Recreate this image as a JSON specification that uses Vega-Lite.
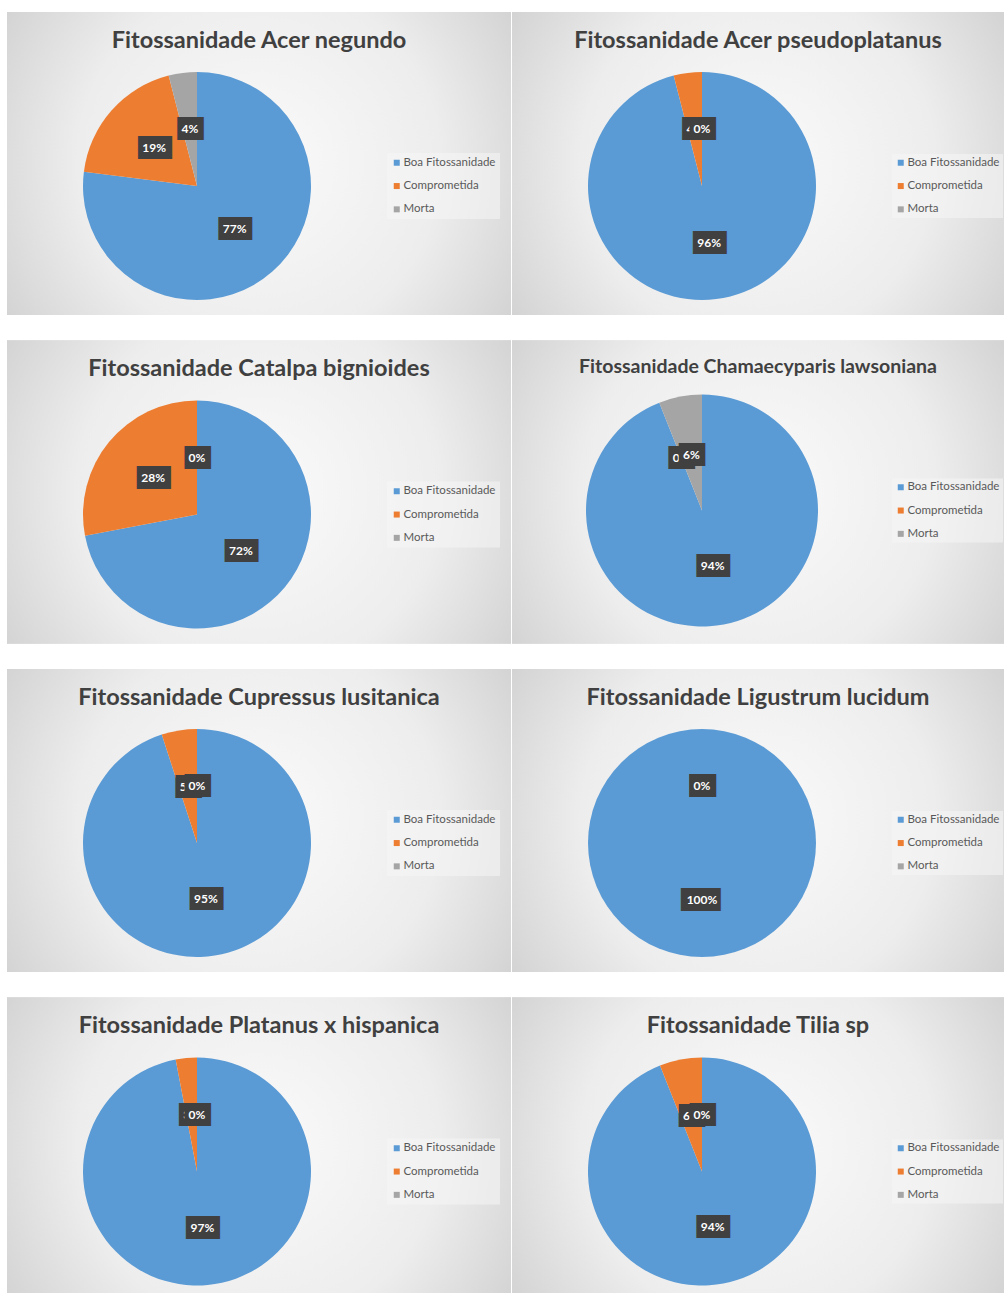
{
  "$schema": "https://vega.github.io/schema/vega-lite/v6.json",
  "background": "#ffffff",
  "padding": {"left": 7, "top": 12, "right": 0, "bottom": 0},
  "data": {
    "values": [
      {"especie": "Acer negundo", "estado": "Boa Fitossanidade", "pct": 77},
      {"especie": "Acer negundo", "estado": "Comprometida", "pct": 19},
      {"especie": "Acer negundo", "estado": "Morta", "pct": 4},
      {"especie": "Acer pseudoplatanus", "estado": "Boa Fitossanidade", "pct": 96},
      {"especie": "Acer pseudoplatanus", "estado": "Comprometida", "pct": 4},
      {"especie": "Acer pseudoplatanus", "estado": "Morta", "pct": 0},
      {"especie": "Catalpa bignioides", "estado": "Boa Fitossanidade", "pct": 72},
      {"especie": "Catalpa bignioides", "estado": "Comprometida", "pct": 28},
      {"especie": "Catalpa bignioides", "estado": "Morta", "pct": 0},
      {"especie": "Chamaecyparis lawsoniana", "estado": "Boa Fitossanidade", "pct": 94},
      {"especie": "Chamaecyparis lawsoniana", "estado": "Comprometida", "pct": 0},
      {"especie": "Chamaecyparis lawsoniana", "estado": "Morta", "pct": 6},
      {"especie": "Cupressus lusitanica", "estado": "Boa Fitossanidade", "pct": 95},
      {"especie": "Cupressus lusitanica", "estado": "Comprometida", "pct": 5},
      {"especie": "Cupressus lusitanica", "estado": "Morta", "pct": 0},
      {"especie": "Ligustrum lucidum", "estado": "Boa Fitossanidade", "pct": 100},
      {"especie": "Ligustrum lucidum", "estado": "Comprometida", "pct": 0},
      {"especie": "Ligustrum lucidum", "estado": "Morta", "pct": 0},
      {"especie": "Platanus x hispanica", "estado": "Boa Fitossanidade", "pct": 97},
      {"especie": "Platanus x hispanica", "estado": "Comprometida", "pct": 3},
      {"especie": "Platanus x hispanica", "estado": "Morta", "pct": 0},
      {"especie": "Tilia sp", "estado": "Boa Fitossanidade", "pct": 94},
      {"especie": "Tilia sp", "estado": "Comprometida", "pct": 6},
      {"especie": "Tilia sp", "estado": "Morta", "pct": 0}
    ]
  },
  "transform": [
    {"calculate": "datum.pct + '%'", "as": "rotulo"},
    {"calculate": "length(datum.rotulo) == 2 ? '\u2595\u2588\u2588\u258E' : length(datum.rotulo) == 3 ? '\u2590\u2588\u2588\u258B' : '\u2590\u2588\u2588\u2588\u258E'", "as": "caixa"}
  ],
  "spacing": 25.5,
  "resolve": {"scale": {"color": "independent", "theta": "independent"}},
  "vconcat": [
    {
      "spacing": 1,
      "resolve": {"scale": {"color": "independent", "theta": "independent"}},
      "hconcat": [
        {
          "width": 504, "height": 303,
          "title": "Fitossanidade Acer negundo",
          "transform": [{"filter": "datum.especie === 'Acer negundo'"}],
          "layer": [
            {"mark": {"type": "rect", "style": "fundo"}, "encoding": {}},
            {"mark": {"type": "arc", "style": "torta", "radius": 114}, "encoding": {"theta": {"field": "pct", "type": "quantitative", "stack": true}, "order": {"field": "estado", "type": "ordinal"}, "color": {"field": "estado", "type": "nominal", "scale": {"domain": ["Boa Fitossanidade", "Comprometida", "Morta"], "range": ["#5B9BD5", "#ED7D31", "#A5A5A5"]}, "legend": {"title": null}}}},
            {"mark": {"type": "text", "style": ["torta", "caixa"], "radius": 57}, "encoding": {"theta": {"field": "pct", "type": "quantitative", "stack": true}, "order": {"field": "estado", "type": "ordinal"}, "text": {"field": "caixa"}, "opacity": {"condition": {"test": "datum.estado === 'Morta'", "value": 0}, "value": 1}}},
            {"mark": {"type": "text", "style": ["torta", "rotulo"], "radius": 57}, "encoding": {"theta": {"field": "pct", "type": "quantitative", "stack": true}, "order": {"field": "estado", "type": "ordinal"}, "text": {"field": "rotulo"}, "opacity": {"condition": {"test": "datum.estado === 'Morta'", "value": 0}, "value": 1}}},
            {"mark": {"type": "text", "style": ["torta", "caixa"], "radius": 57}, "encoding": {"theta": {"field": "pct", "type": "quantitative", "stack": true}, "order": {"field": "estado", "type": "ordinal"}, "text": {"field": "caixa"}, "opacity": {"condition": {"test": "datum.estado === 'Morta'", "value": 1}, "value": 0}}},
            {"mark": {"type": "text", "style": ["torta", "rotulo"], "radius": 57}, "encoding": {"theta": {"field": "pct", "type": "quantitative", "stack": true}, "order": {"field": "estado", "type": "ordinal"}, "text": {"field": "rotulo"}, "opacity": {"condition": {"test": "datum.estado === 'Morta'", "value": 1}, "value": 0}}}
          ]
        },
        {
          "width": 492, "height": 303,
          "title": "Fitossanidade Acer pseudoplatanus",
          "transform": [{"filter": "datum.especie === 'Acer pseudoplatanus'"}],
          "layer": [
            {"mark": {"type": "rect", "style": "fundo"}, "encoding": {}},
            {"mark": {"type": "arc", "style": "torta", "radius": 114}, "encoding": {"theta": {"field": "pct", "type": "quantitative", "stack": true}, "order": {"field": "estado", "type": "ordinal"}, "color": {"field": "estado", "type": "nominal", "scale": {"domain": ["Boa Fitossanidade", "Comprometida", "Morta"], "range": ["#5B9BD5", "#ED7D31", "#A5A5A5"]}, "legend": {"title": null, "padding": 3, "legendY": 142}}}},
            {"mark": {"type": "text", "style": ["torta", "caixa"], "radius": 57}, "encoding": {"theta": {"field": "pct", "type": "quantitative", "stack": true}, "order": {"field": "estado", "type": "ordinal"}, "text": {"field": "caixa"}, "opacity": {"condition": {"test": "datum.estado === 'Morta'", "value": 0}, "value": 1}}},
            {"mark": {"type": "text", "style": ["torta", "rotulo"], "radius": 57}, "encoding": {"theta": {"field": "pct", "type": "quantitative", "stack": true}, "order": {"field": "estado", "type": "ordinal"}, "text": {"field": "rotulo"}, "opacity": {"condition": {"test": "datum.estado === 'Morta'", "value": 0}, "value": 1}}},
            {"mark": {"type": "text", "style": ["torta", "caixa"], "radius": 57}, "encoding": {"theta": {"field": "pct", "type": "quantitative", "stack": true}, "order": {"field": "estado", "type": "ordinal"}, "text": {"field": "caixa"}, "opacity": {"condition": {"test": "datum.estado === 'Morta'", "value": 1}, "value": 0}}},
            {"mark": {"type": "text", "style": ["torta", "rotulo"], "radius": 57}, "encoding": {"theta": {"field": "pct", "type": "quantitative", "stack": true}, "order": {"field": "estado", "type": "ordinal"}, "text": {"field": "rotulo"}, "opacity": {"condition": {"test": "datum.estado === 'Morta'", "value": 1}, "value": 0}}}
          ]
        }
      ]
    },
    {
      "spacing": 1,
      "resolve": {"scale": {"color": "independent", "theta": "independent"}},
      "hconcat": [
        {
          "width": 504, "height": 303,
          "title": "Fitossanidade Catalpa bignioides",
          "transform": [{"filter": "datum.especie === 'Catalpa bignioides'"}],
          "layer": [
            {"mark": {"type": "rect", "style": "fundo"}, "encoding": {}},
            {"mark": {"type": "arc", "style": "torta", "radius": 114}, "encoding": {"theta": {"field": "pct", "type": "quantitative", "stack": true}, "order": {"field": "estado", "type": "ordinal"}, "color": {"field": "estado", "type": "nominal", "scale": {"domain": ["Boa Fitossanidade", "Comprometida", "Morta"], "range": ["#5B9BD5", "#ED7D31", "#A5A5A5"]}, "legend": {"title": null}}}},
            {"mark": {"type": "text", "style": ["torta", "caixa"], "radius": 57}, "encoding": {"theta": {"field": "pct", "type": "quantitative", "stack": true}, "order": {"field": "estado", "type": "ordinal"}, "text": {"field": "caixa"}, "opacity": {"condition": {"test": "datum.estado === 'Morta'", "value": 0}, "value": 1}}},
            {"mark": {"type": "text", "style": ["torta", "rotulo"], "radius": 57}, "encoding": {"theta": {"field": "pct", "type": "quantitative", "stack": true}, "order": {"field": "estado", "type": "ordinal"}, "text": {"field": "rotulo"}, "opacity": {"condition": {"test": "datum.estado === 'Morta'", "value": 0}, "value": 1}}},
            {"mark": {"type": "text", "style": ["torta", "caixa"], "radius": 57}, "encoding": {"theta": {"field": "pct", "type": "quantitative", "stack": true}, "order": {"field": "estado", "type": "ordinal"}, "text": {"field": "caixa"}, "opacity": {"condition": {"test": "datum.estado === 'Morta'", "value": 1}, "value": 0}}},
            {"mark": {"type": "text", "style": ["torta", "rotulo"], "radius": 57}, "encoding": {"theta": {"field": "pct", "type": "quantitative", "stack": true}, "order": {"field": "estado", "type": "ordinal"}, "text": {"field": "rotulo"}, "opacity": {"condition": {"test": "datum.estado === 'Morta'", "value": 1}, "value": 0}}}
          ]
        },
        {
          "width": 492, "height": 303,
          "title": {"text": "Fitossanidade Chamaecyparis lawsoniana", "fontSize": 19.5, "offset": -37},
          "transform": [{"filter": "datum.especie === 'Chamaecyparis lawsoniana'"}],
          "layer": [
            {"mark": {"type": "rect", "style": "fundo"}, "encoding": {}},
            {"mark": {"type": "arc", "style": "torta", "radius": 116, "y": 170}, "encoding": {"theta": {"field": "pct", "type": "quantitative", "stack": true}, "order": {"field": "estado", "type": "ordinal"}, "color": {"field": "estado", "type": "nominal", "scale": {"domain": ["Boa Fitossanidade", "Comprometida", "Morta"], "range": ["#5B9BD5", "#ED7D31", "#A5A5A5"]}, "legend": {"title": null, "padding": 3, "legendY": 138}}}},
            {"mark": {"type": "text", "style": ["torta", "caixa"], "radius": 57, "y": 170}, "encoding": {"theta": {"field": "pct", "type": "quantitative", "stack": true}, "order": {"field": "estado", "type": "ordinal"}, "text": {"field": "caixa"}, "opacity": {"condition": {"test": "datum.estado === 'Morta'", "value": 0}, "value": 1}}},
            {"mark": {"type": "text", "style": ["torta", "rotulo"], "radius": 57, "y": 170}, "encoding": {"theta": {"field": "pct", "type": "quantitative", "stack": true}, "order": {"field": "estado", "type": "ordinal"}, "text": {"field": "rotulo"}, "opacity": {"condition": {"test": "datum.estado === 'Morta'", "value": 0}, "value": 1}}},
            {"mark": {"type": "text", "style": ["torta", "caixa"], "radius": 57, "y": 170}, "encoding": {"theta": {"field": "pct", "type": "quantitative", "stack": true}, "order": {"field": "estado", "type": "ordinal"}, "text": {"field": "caixa"}, "opacity": {"condition": {"test": "datum.estado === 'Morta'", "value": 1}, "value": 0}}},
            {"mark": {"type": "text", "style": ["torta", "rotulo"], "radius": 57, "y": 170}, "encoding": {"theta": {"field": "pct", "type": "quantitative", "stack": true}, "order": {"field": "estado", "type": "ordinal"}, "text": {"field": "rotulo"}, "opacity": {"condition": {"test": "datum.estado === 'Morta'", "value": 1}, "value": 0}}}
          ]
        }
      ]
    },
    {
      "spacing": 1,
      "resolve": {"scale": {"color": "independent", "theta": "independent"}},
      "hconcat": [
        {
          "width": 504, "height": 303,
          "title": "Fitossanidade Cupressus lusitanica",
          "transform": [{"filter": "datum.especie === 'Cupressus lusitanica'"}],
          "layer": [
            {"mark": {"type": "rect", "style": "fundo"}, "encoding": {}},
            {"mark": {"type": "arc", "style": "torta", "radius": 114}, "encoding": {"theta": {"field": "pct", "type": "quantitative", "stack": true}, "order": {"field": "estado", "type": "ordinal"}, "color": {"field": "estado", "type": "nominal", "scale": {"domain": ["Boa Fitossanidade", "Comprometida", "Morta"], "range": ["#5B9BD5", "#ED7D31", "#A5A5A5"]}, "legend": {"title": null}}}},
            {"mark": {"type": "text", "style": ["torta", "caixa"], "radius": 57}, "encoding": {"theta": {"field": "pct", "type": "quantitative", "stack": true}, "order": {"field": "estado", "type": "ordinal"}, "text": {"field": "caixa"}, "opacity": {"condition": {"test": "datum.estado === 'Morta'", "value": 0}, "value": 1}}},
            {"mark": {"type": "text", "style": ["torta", "rotulo"], "radius": 57}, "encoding": {"theta": {"field": "pct", "type": "quantitative", "stack": true}, "order": {"field": "estado", "type": "ordinal"}, "text": {"field": "rotulo"}, "opacity": {"condition": {"test": "datum.estado === 'Morta'", "value": 0}, "value": 1}}},
            {"mark": {"type": "text", "style": ["torta", "caixa"], "radius": 57}, "encoding": {"theta": {"field": "pct", "type": "quantitative", "stack": true}, "order": {"field": "estado", "type": "ordinal"}, "text": {"field": "caixa"}, "opacity": {"condition": {"test": "datum.estado === 'Morta'", "value": 1}, "value": 0}}},
            {"mark": {"type": "text", "style": ["torta", "rotulo"], "radius": 57}, "encoding": {"theta": {"field": "pct", "type": "quantitative", "stack": true}, "order": {"field": "estado", "type": "ordinal"}, "text": {"field": "rotulo"}, "opacity": {"condition": {"test": "datum.estado === 'Morta'", "value": 1}, "value": 0}}}
          ]
        },
        {
          "width": 492, "height": 303,
          "title": "Fitossanidade Ligustrum lucidum",
          "transform": [{"filter": "datum.especie === 'Ligustrum lucidum'"}],
          "layer": [
            {"mark": {"type": "rect", "style": "fundo"}, "encoding": {}},
            {"mark": {"type": "arc", "style": "torta", "radius": 114}, "encoding": {"theta": {"field": "pct", "type": "quantitative", "stack": true}, "order": {"field": "estado", "type": "ordinal"}, "color": {"field": "estado", "type": "nominal", "scale": {"domain": ["Boa Fitossanidade", "Comprometida", "Morta"], "range": ["#5B9BD5", "#ED7D31", "#A5A5A5"]}, "legend": {"title": null, "padding": 3, "legendY": 142}}}},
            {"mark": {"type": "text", "style": ["torta", "caixa"], "radius": 57}, "encoding": {"theta": {"field": "pct", "type": "quantitative", "stack": true}, "order": {"field": "estado", "type": "ordinal"}, "text": {"field": "caixa"}, "opacity": {"condition": {"test": "datum.estado === 'Morta'", "value": 0}, "value": 1}}},
            {"mark": {"type": "text", "style": ["torta", "rotulo"], "radius": 57}, "encoding": {"theta": {"field": "pct", "type": "quantitative", "stack": true}, "order": {"field": "estado", "type": "ordinal"}, "text": {"field": "rotulo"}, "opacity": {"condition": {"test": "datum.estado === 'Morta'", "value": 0}, "value": 1}}},
            {"mark": {"type": "text", "style": ["torta", "caixa"], "radius": 57}, "encoding": {"theta": {"field": "pct", "type": "quantitative", "stack": true}, "order": {"field": "estado", "type": "ordinal"}, "text": {"field": "caixa"}, "opacity": {"condition": {"test": "datum.estado === 'Morta'", "value": 1}, "value": 0}}},
            {"mark": {"type": "text", "style": ["torta", "rotulo"], "radius": 57}, "encoding": {"theta": {"field": "pct", "type": "quantitative", "stack": true}, "order": {"field": "estado", "type": "ordinal"}, "text": {"field": "rotulo"}, "opacity": {"condition": {"test": "datum.estado === 'Morta'", "value": 1}, "value": 0}}}
          ]
        }
      ]
    },
    {
      "spacing": 1,
      "resolve": {"scale": {"color": "independent", "theta": "independent"}},
      "hconcat": [
        {
          "width": 504, "height": 295.5,
          "title": "Fitossanidade Platanus x hispanica",
          "transform": [{"filter": "datum.especie === 'Platanus x hispanica'"}],
          "layer": [
            {"mark": {"type": "rect", "style": "fundo"}, "encoding": {}},
            {"mark": {"type": "arc", "style": "torta", "radius": 114}, "encoding": {"theta": {"field": "pct", "type": "quantitative", "stack": true}, "order": {"field": "estado", "type": "ordinal"}, "color": {"field": "estado", "type": "nominal", "scale": {"domain": ["Boa Fitossanidade", "Comprometida", "Morta"], "range": ["#5B9BD5", "#ED7D31", "#A5A5A5"]}, "legend": {"title": null}}}},
            {"mark": {"type": "text", "style": ["torta", "caixa"], "radius": 57}, "encoding": {"theta": {"field": "pct", "type": "quantitative", "stack": true}, "order": {"field": "estado", "type": "ordinal"}, "text": {"field": "caixa"}, "opacity": {"condition": {"test": "datum.estado === 'Morta'", "value": 0}, "value": 1}}},
            {"mark": {"type": "text", "style": ["torta", "rotulo"], "radius": 57}, "encoding": {"theta": {"field": "pct", "type": "quantitative", "stack": true}, "order": {"field": "estado", "type": "ordinal"}, "text": {"field": "rotulo"}, "opacity": {"condition": {"test": "datum.estado === 'Morta'", "value": 0}, "value": 1}}},
            {"mark": {"type": "text", "style": ["torta", "caixa"], "radius": 57}, "encoding": {"theta": {"field": "pct", "type": "quantitative", "stack": true}, "order": {"field": "estado", "type": "ordinal"}, "text": {"field": "caixa"}, "opacity": {"condition": {"test": "datum.estado === 'Morta'", "value": 1}, "value": 0}}},
            {"mark": {"type": "text", "style": ["torta", "rotulo"], "radius": 57}, "encoding": {"theta": {"field": "pct", "type": "quantitative", "stack": true}, "order": {"field": "estado", "type": "ordinal"}, "text": {"field": "rotulo"}, "opacity": {"condition": {"test": "datum.estado === 'Morta'", "value": 1}, "value": 0}}}
          ]
        },
        {
          "width": 492, "height": 295.5,
          "title": "Fitossanidade Tilia sp",
          "transform": [{"filter": "datum.especie === 'Tilia sp'"}],
          "layer": [
            {"mark": {"type": "rect", "style": "fundo"}, "encoding": {}},
            {"mark": {"type": "arc", "style": "torta", "radius": 114}, "encoding": {"theta": {"field": "pct", "type": "quantitative", "stack": true}, "order": {"field": "estado", "type": "ordinal"}, "color": {"field": "estado", "type": "nominal", "scale": {"domain": ["Boa Fitossanidade", "Comprometida", "Morta"], "range": ["#5B9BD5", "#ED7D31", "#A5A5A5"]}, "legend": {"title": null, "padding": 3, "legendY": 142}}}},
            {"mark": {"type": "text", "style": ["torta", "caixa"], "radius": 57}, "encoding": {"theta": {"field": "pct", "type": "quantitative", "stack": true}, "order": {"field": "estado", "type": "ordinal"}, "text": {"field": "caixa"}, "opacity": {"condition": {"test": "datum.estado === 'Morta'", "value": 0}, "value": 1}}},
            {"mark": {"type": "text", "style": ["torta", "rotulo"], "radius": 57}, "encoding": {"theta": {"field": "pct", "type": "quantitative", "stack": true}, "order": {"field": "estado", "type": "ordinal"}, "text": {"field": "rotulo"}, "opacity": {"condition": {"test": "datum.estado === 'Morta'", "value": 0}, "value": 1}}},
            {"mark": {"type": "text", "style": ["torta", "caixa"], "radius": 57}, "encoding": {"theta": {"field": "pct", "type": "quantitative", "stack": true}, "order": {"field": "estado", "type": "ordinal"}, "text": {"field": "caixa"}, "opacity": {"condition": {"test": "datum.estado === 'Morta'", "value": 1}, "value": 0}}},
            {"mark": {"type": "text", "style": ["torta", "rotulo"], "radius": 57}, "encoding": {"theta": {"field": "pct", "type": "quantitative", "stack": true}, "order": {"field": "estado", "type": "ordinal"}, "text": {"field": "rotulo"}, "opacity": {"condition": {"test": "datum.estado === 'Morta'", "value": 1}, "value": 0}}}
          ]
        }
      ]
    }
  ],
  "config": {
    "view": {"stroke": "#d6d6d6"},
    "title": {"font": "Lato", "fontSize": 23.5, "fontWeight": "bold", "color": "#404040", "anchor": "middle", "frame": "group", "offset": -40},
    "legend": {
      "orient": "none", "legendX": 380, "legendY": 141, "padding": 4,
      "fillColor": "rgba(246,246,246,0.55)", "cornerRadius": 0,
      "symbolType": "square", "symbolSize": 36, "symbolStrokeWidth": 0,
      "labelFont": "Lato", "labelFontSize": 11.5, "labelColor": "#595959", "labelOffset": 1,
      "rowPadding": 10.3
    },
    "style": {
      "fundo": {
        "x": 0, "x2": "width", "y": 0, "y2": "height",
        "color": {
          "gradient": "radial",
          "x1": 0.5, "y1": 0.5, "r1": 0,
          "x2": 0.5, "y2": 0.5, "r2": 0.72,
          "stops": [
            {"offset": 0, "color": "#fafafa"},
            {"offset": 0.5, "color": "#ededed"},
            {"offset": 1, "color": "#c4c4c4"}
          ]
        }
      },
      "torta": {"x": 190, "y": 174},
      "caixa": {"font": "DejaVu Sans Mono", "fontSize": 16, "color": "#404040", "stroke": "#404040", "strokeWidth": 4, "strokeJoin": "miter", "align": "center", "baseline": "middle"},
      "rotulo": {"font": "Lato", "fontSize": 12, "fontWeight": "bold", "color": "#ffffff", "align": "center", "baseline": "middle"}
    }
  }
}
